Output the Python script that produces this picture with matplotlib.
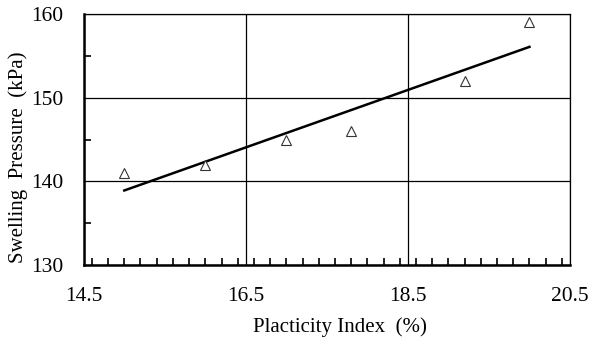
import matplotlib.pyplot as plt
import numpy as np
from matplotlib.ticker import MultipleLocator

# data
plasticity = np.array([15.0, 16.0, 17.0, 17.8, 19.2, 20.0])
swelling = np.array([141, 142, 145, 146, 152, 159])

x_ticks = [14.5, 16.5, 18.5, 20.5]
y_ticks = [130, 140, 150, 160]

plt.rcParams['font.family'] = ['Liberation Serif', 'DejaVu Serif']

fig = plt.figure(figsize=(5.9, 3.43), dpi=100)
ax = fig.add_axes([0.142, 0.227, 0.824, 0.732])

# linear trend line
slope, icpt = np.polyfit(plasticity, swelling, 1)
xl = np.array([plasticity.min(), plasticity.max()])
ax.plot(xl, slope * xl + icpt, color='black', lw=1.8, zorder=3)

ax.plot(plasticity, swelling, linestyle='none', marker='^', markersize=7,
        markerfacecolor='white', markeredgecolor='#333333', markeredgewidth=0.8, zorder=4)

ax.set_xlim(14.5, 20.5)
ax.set_ylim(130, 160)
ax.set_xticks(x_ticks)
ax.set_yticks(y_ticks)
ax.set_xticklabels(['14.5', '16.5', '18.5', '20.5'])
ax.xaxis.set_minor_locator(MultipleLocator(0.2))
ax.yaxis.set_minor_locator(MultipleLocator(5))
ax.grid(True, which='major', color='black', lw=0.9)
ax.tick_params(which='major', length=0, labelsize=15.5)
ax.tick_params(axis='x', which='major', pad=16)
ax.tick_params(axis='y', which='major', pad=15)
ax.tick_params(which='minor', direction='in', length=5, width=1.2, color='black')

ax.spines['left'].set_linewidth(1.8)
ax.spines['bottom'].set_linewidth(1.8)
ax.spines['top'].set_linewidth(0.9)
ax.spines['right'].set_linewidth(0.9)

ax.set_xlabel('Placticity Index  (%)', fontsize=15, va='center')
ax.set_ylabel('Swelling  Pressure  (kPa)', fontsize=15, va='center')
ax.xaxis.set_label_coords(0.527, -0.247)
ax.yaxis.set_label_coords(-0.136, 0.43)

fig.savefig('out.png', dpi=100)
